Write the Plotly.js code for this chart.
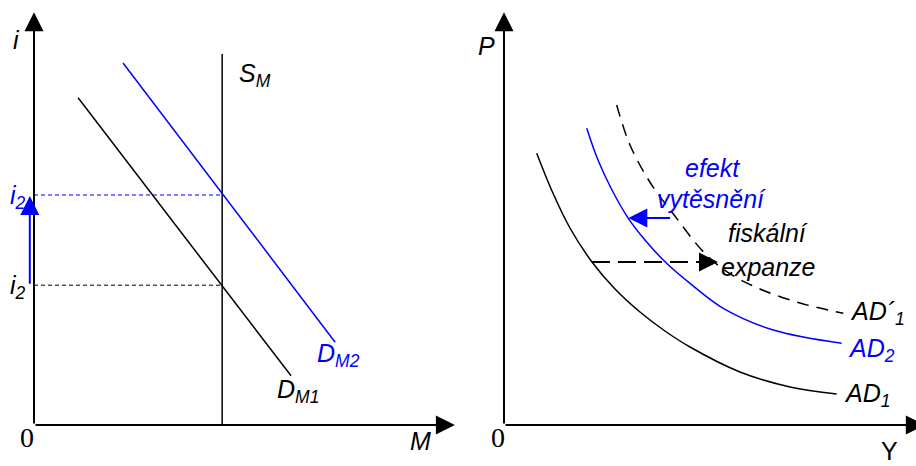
<!DOCTYPE html>
<html>
<head>
<meta charset="utf-8">
<script src="https://cdn.plot.ly/plotly-3.0.1.min.js"></script>
<style>html,body{margin:0;padding:0;background:#fff;}#chart{width:916px;height:466px;}</style>
</head>
<body>
<div id="chart"></div>
<script>
// ---------- Left panel: money market (M, i) ----------
var supplyM = 4.48;                 // S_M position
var supplyTop = 9.05;
var dm1X = [1.05, 6.12];
var dm1Y = [7.98, 1.20];
var dm2X = [2.12, 7.17];
var dm2Y = [8.83, 2.02];
var rate1 = 3.41;                   // lower i level
var rate2 = 5.61;                   // higher i level
var rateArrowX = -0.1;
var rateArrowTop = 5.585;

// ---------- Right panel: aggregate demand (Y, P) ----------
var ad1X = [0.779, 1.143, 1.571, 2.095, 2.643, 3.238, 3.833, 4.429, 5.619, 6.810, 7.921];
var ad1Y = [6.627, 5.707, 4.805, 3.976, 3.317, 2.756, 2.293, 1.902, 1.293, 0.927, 0.756];
var ad2X = [1.969, 2.238, 2.571, 2.960, 3.357, 3.833, 4.429, 5.221, 6.412, 8.040];
var ad2Y = [7.237, 6.463, 5.732, 5.041, 4.512, 3.983, 3.456, 2.846, 2.317, 1.993];
var adpX = [2.683, 3.000, 3.517, 3.993, 4.745, 5.302, 6.095, 7.048, 8.079];
var adpY = [7.805, 6.829, 5.854, 5.202, 4.227, 3.739, 3.317, 2.976, 2.724];
var expansionY = 3.976;             // fiscal expansion level
var expansionX = [2.095, 5.095];
var crowdY = 5.049;                 // crowding-out arrow level
var crowdX = [3.99, 2.96];

var axisEnd = 10.02;
var axisTop = 10.07;

var BLUE = '#0000ff';
var BLACK = '#000000';
var SANS = 'Liberation Sans, Arial, sans-serif';
var SERIF = 'Liberation Serif, Times New Roman, serif';
var FS = 25;

var traces = [
  {x: [supplyM, supplyM], y: [0, supplyTop], xaxis: 'x', yaxis: 'y', mode: 'lines', line: {color: BLACK, width: 1.5}},
  {x: dm1X, y: dm1Y, xaxis: 'x', yaxis: 'y', mode: 'lines', line: {color: BLACK, width: 1.5}},
  {x: dm2X, y: dm2Y, xaxis: 'x', yaxis: 'y', mode: 'lines', line: {color: BLUE, width: 1.5}},
  {x: [0, supplyM], y: [rate1, rate1], xaxis: 'x', yaxis: 'y', mode: 'lines', line: {color: BLACK, width: 1, dash: '4px,3px'}},
  {x: [0, supplyM], y: [rate2, rate2], xaxis: 'x', yaxis: 'y', mode: 'lines', line: {color: BLUE, width: 1, dash: '4px,3px'}},

  {x: ad1X, y: ad1Y, xaxis: 'x2', yaxis: 'y2', mode: 'lines', line: {color: BLACK, width: 1.5, shape: 'spline', smoothing: 1}},
  {x: ad2X, y: ad2Y, xaxis: 'x2', yaxis: 'y2', mode: 'lines', line: {color: BLUE, width: 1.5, shape: 'spline', smoothing: 1}},
  {x: adpX, y: adpY, xaxis: 'x2', yaxis: 'y2', mode: 'lines', line: {color: BLACK, width: 1.5, shape: 'spline', smoothing: 1, dash: '12px,8px'}},
  {x: expansionX, y: [expansionY, expansionY], xaxis: 'x2', yaxis: 'y2', mode: 'lines', line: {color: BLACK, width: 2, dash: '18px,8px'}}
];

function arrow(xr, yr, x0, y0, x1, y1, color) {
  return {xref: xr, yref: yr, axref: xr, ayref: yr, x: x1, y: y1, ax: x0, ay: y0,
    text: '', showarrow: true, arrowhead: 2, arrowsize: 1.9, arrowwidth: 2, arrowcolor: color, standoff: 0, startstandoff: 0};
}
function label(xr, yr, x, y, txt, color, size, xa, fam) {
  return {xref: xr, yref: yr, x: x, y: y, text: txt, showarrow: false, xanchor: xa || 'center', yanchor: 'middle',
    font: {family: fam || SANS, size: size || FS, color: color || BLACK}};
}

var annotations = [
  // axes
  arrow('x', 'y', 0, 0, 0, axisTop, BLACK),
  arrow('x', 'y', 0, 0, axisEnd, 0, BLACK),
  arrow('x2', 'y2', 0, 0, 0, axisTop, BLACK),
  arrow('x2', 'y2', 0, 0, axisEnd, 0, BLACK),
  // blue rise of interest rate
  arrow('x', 'y', rateArrowX, rate1, rateArrowX, rateArrowTop, BLUE),
  // crowding out arrow
  arrow('x2', 'y2', crowdX[0], crowdY, crowdX[1], crowdY, BLUE),
  // fiscal expansion arrowhead
  arrow('x2', 'y2', expansionX[1] - 0.45, expansionY, expansionX[1], expansionY, BLACK),

  // left labels
  label('x', 'y', -0.405, 9.39, '<i>i</i>'),
  label('x', 'y', 4.83, 8.54, '<i>S<sub>M</sub></i>', BLACK, FS, 'left'),
  label('x', 'y', 6.69, 1.71, '<i>D<sub>M2</sub></i>', BLUE, FS, 'left'),
  label('x', 'y', 5.74, 0.83, '<i>D<sub>M1</sub></i>', BLACK, FS, 'left'),
  label('x', 'y', -0.62, 5.56, '<i>i<sub>2</sub></i>', BLUE, FS, 'left'),
  label('x', 'y', -0.62, 3.37, '<i>i<sub>2</sub></i>', BLACK, FS, 'left'),
  label('x', 'y', -0.167, -0.293, '0', BLACK, 28, 'center', SERIF),
  label('x', 'y', 9.21, -0.39, '<i>M</i>'),

  // right labels
  label('x2', 'y2', -0.405, 9.24, '<i>P</i>'),
  label('x2', 'y2', -0.143, -0.293, '0', BLACK, 28, 'center', SERIF),
  label('x2', 'y2', 9.17, -0.64, 'Y'),
  label('x2', 'y2', 4.976, 6.27, '<i>efekt</i>', BLUE),
  label('x2', 'y2', 4.95, 5.51, '<i>vytěsnění</i>', BLUE),
  label('x2', 'y2', 6.286, 4.68, '<i>fiskální</i>'),
  label('x2', 'y2', 6.286, 3.85, '<i>expanze</i>'),
  label('x2', 'y2', 8.19, 2.73, '<i>AD´<sub>1</sub></i>', BLACK, FS, 'left'),
  label('x2', 'y2', 8.14, 1.83, '<i>AD<sub>2</sub></i>', BLUE, FS, 'left'),
  label('x2', 'y2', 8.05, 0.73, '<i>AD<sub>1</sub></i>', BLACK, FS, 'left')
];

var hidden = {visible: false, showgrid: false, zeroline: false, fixedrange: true};
var layout = {
  width: 916, height: 466,
  margin: {l: 0, r: 0, t: 0, b: 0},
  paper_bgcolor: '#ffffff', plot_bgcolor: 'rgba(0,0,0,0)',
  showlegend: false,
  xaxis: Object.assign({domain: [0, 0.5], range: [-0.8095, 10.095], anchor: 'y'}, hidden),
  yaxis: Object.assign({domain: [0, 1], range: [-1, 10.366], anchor: 'x'}, hidden),
  xaxis2: Object.assign({domain: [0.5, 1], range: [-1.095, 9.81], anchor: 'y2'}, hidden),
  yaxis2: Object.assign({domain: [0, 1], range: [-1, 10.366], anchor: 'x2'}, hidden),
  annotations: annotations
};

Plotly.newPlot('chart', traces, layout, {staticPlot: true, displayModeBar: false});
</script>
</body>
</html>
